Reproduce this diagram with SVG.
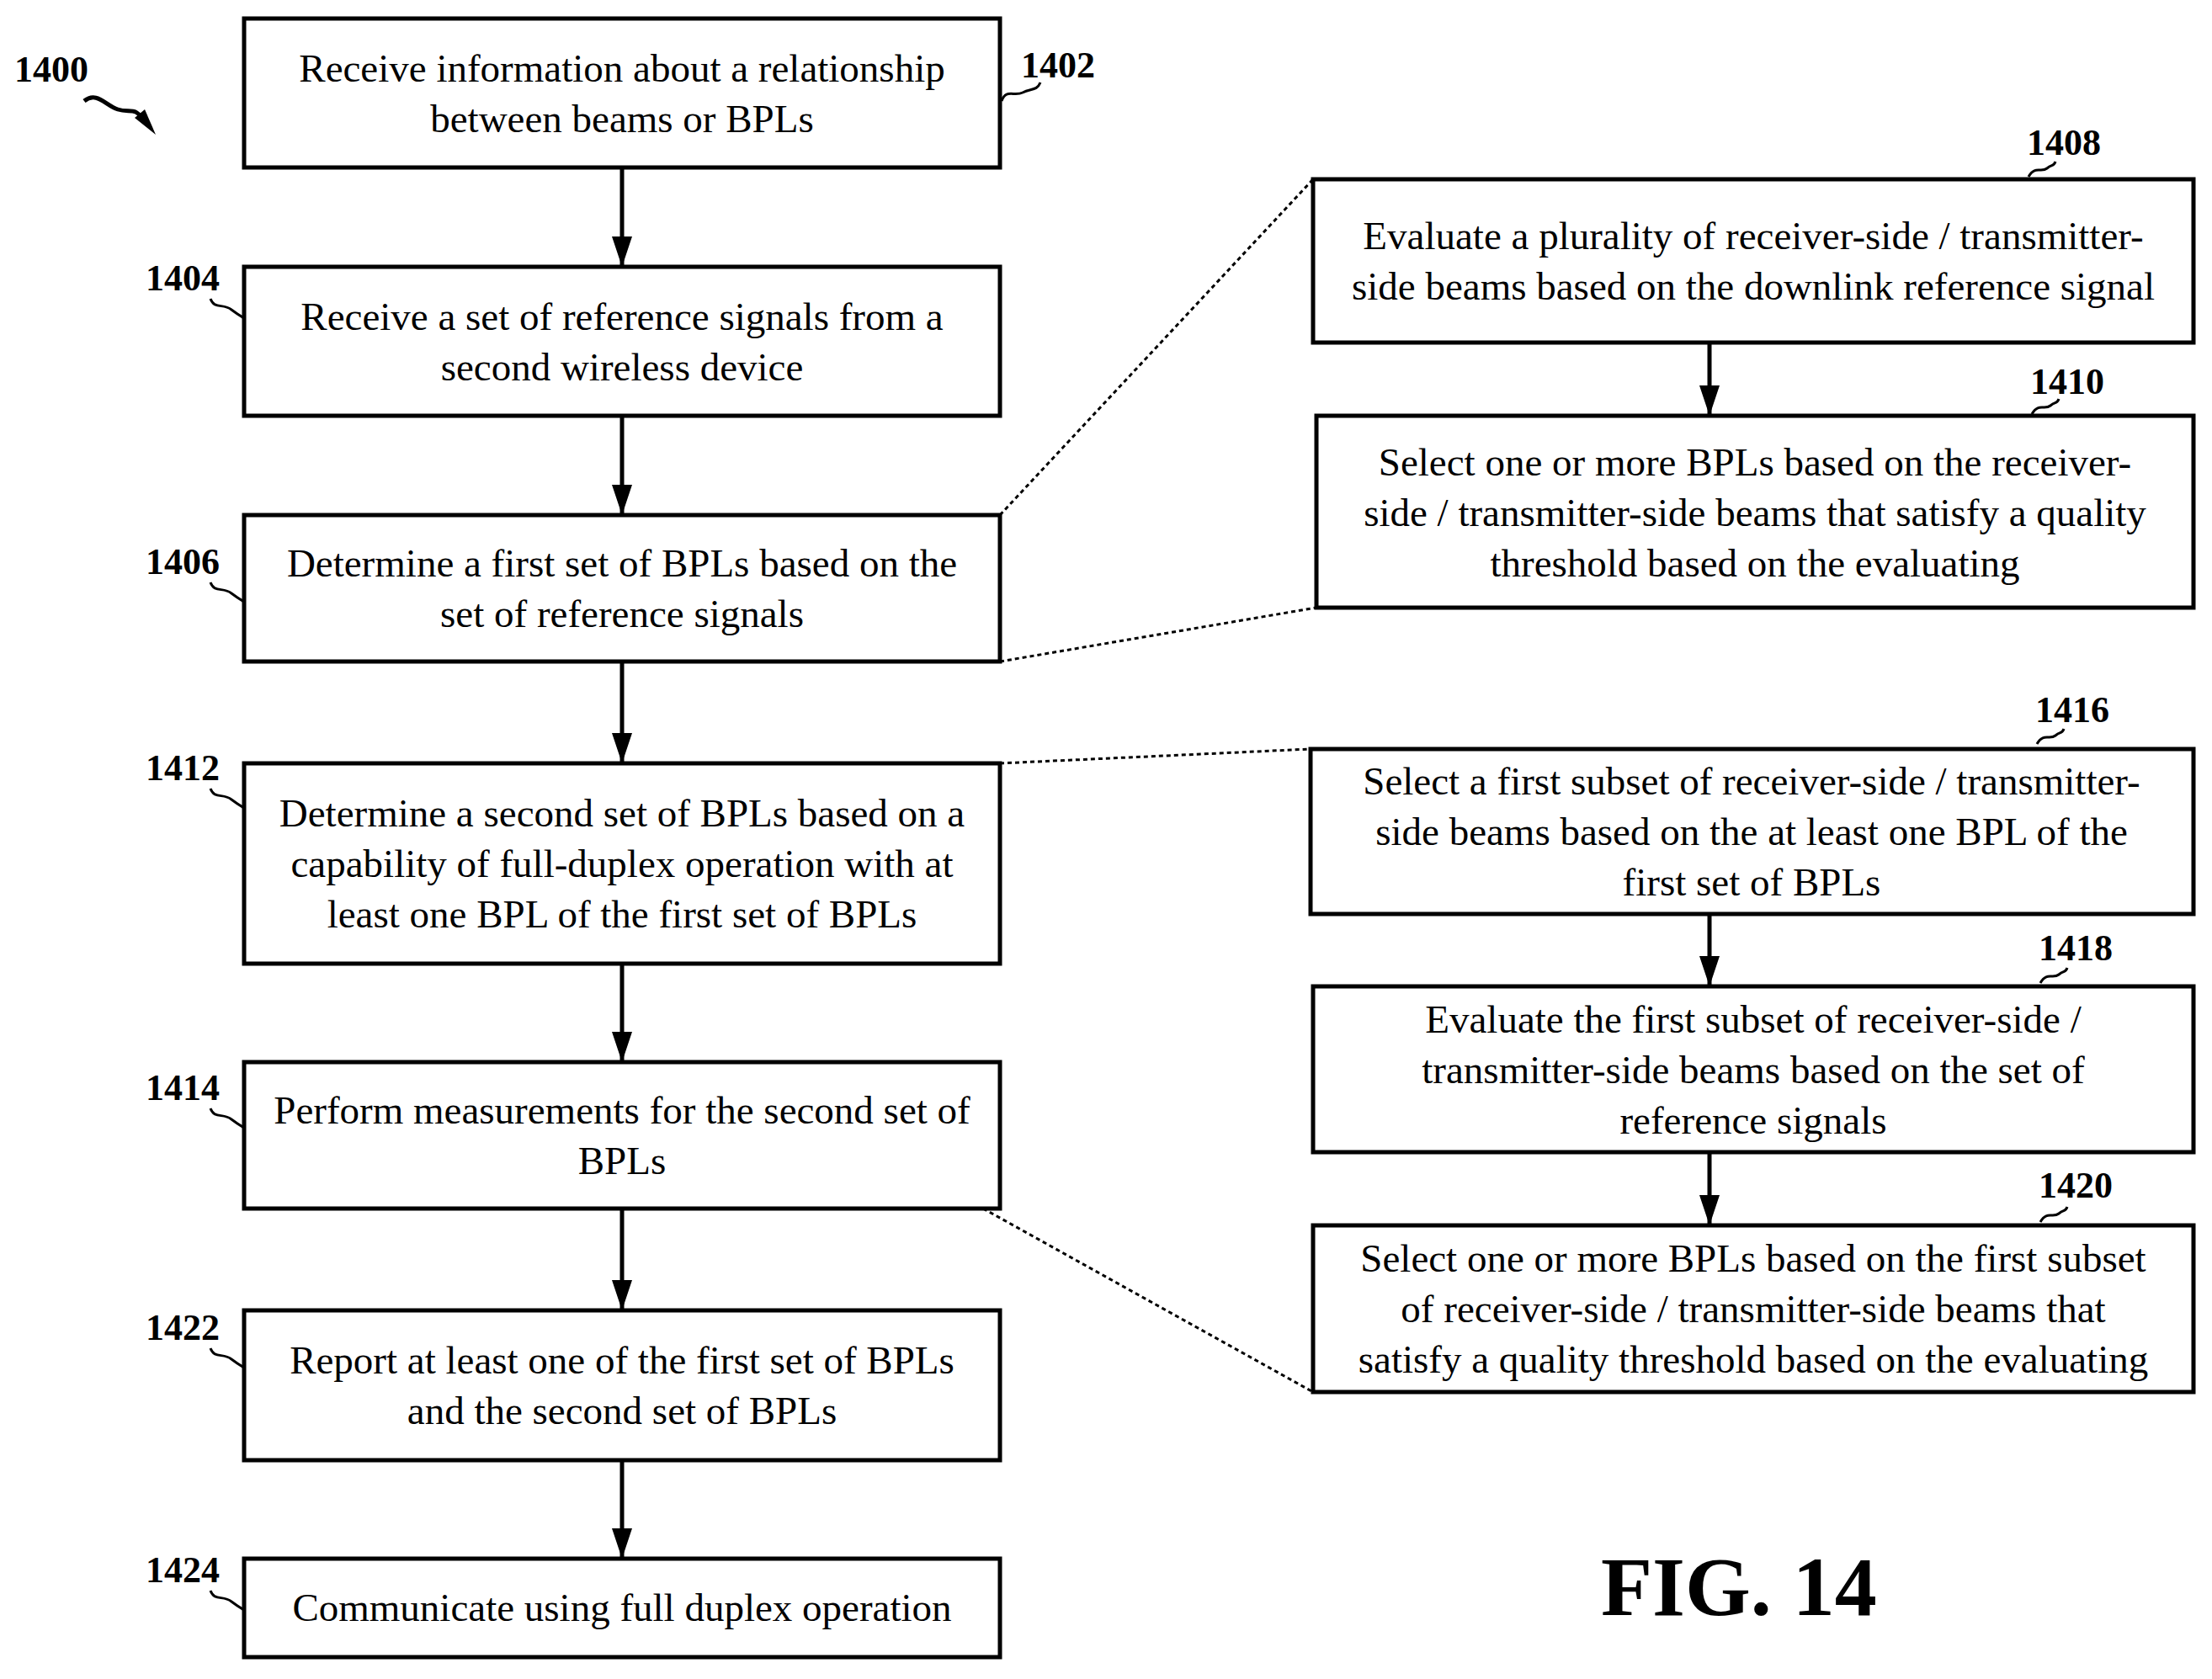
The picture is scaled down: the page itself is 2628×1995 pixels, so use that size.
<svg xmlns="http://www.w3.org/2000/svg" width="2628" height="1995" viewBox="0 0 2628 1995" font-family="Liberation Serif, serif">
<defs>
<style>
.b{fill:#fff;stroke:#000;stroke-width:5}
.t{font-size:47px;text-anchor:middle}
.l{font-size:44px;font-weight:bold}
.a{stroke:#000;stroke-width:5;fill:none}
.d{stroke:#000;stroke-width:3;fill:none;stroke-dasharray:5 4}
.s{stroke:#000;stroke-width:3;fill:none}
</style>
<marker id="ar" markerWidth="36" markerHeight="24" refX="36" refY="12" orient="auto" markerUnits="userSpaceOnUse"><path d="M0,0L36,12L0,24z"/></marker>
</defs>
<g id="n1402"><rect class="b" x="290" y="22" width="898" height="177"/><text class="t" x="739" y="97" font-family="Liberation Serif, serif">Receive information about a relationship</text><text class="t" x="739" y="157" font-family="Liberation Serif, serif">between beams or BPLs</text></g>
<g id="n1404"><rect class="b" x="290" y="317" width="898" height="177"/><text class="t" x="739" y="392" font-family="Liberation Serif, serif">Receive a set of reference signals from a</text><text class="t" x="739" y="452" font-family="Liberation Serif, serif">second wireless device</text></g>
<g id="n1406"><rect class="b" x="290" y="612" width="898" height="174"/><text class="t" x="739" y="685" font-family="Liberation Serif, serif">Determine a first set of BPLs based on the</text><text class="t" x="739" y="745" font-family="Liberation Serif, serif">set of reference signals</text></g>
<g id="n1412"><rect class="b" x="290" y="907" width="898" height="238"/><text class="t" x="739" y="982" font-family="Liberation Serif, serif">Determine a second set of BPLs based on a</text><text class="t" x="739" y="1042" font-family="Liberation Serif, serif">capability of full-duplex operation with at</text><text class="t" x="739" y="1102" font-family="Liberation Serif, serif">least one BPL of the first set of BPLs</text></g>
<g id="n1414"><rect class="b" x="290" y="1262" width="898" height="174"/><text class="t" x="739" y="1335" font-family="Liberation Serif, serif">Perform measurements for the second set of</text><text class="t" x="739" y="1395" font-family="Liberation Serif, serif">BPLs</text></g>
<g id="n1422"><rect class="b" x="290" y="1557" width="898" height="178"/><text class="t" x="739" y="1632" font-family="Liberation Serif, serif">Report at least one of the first set of BPLs</text><text class="t" x="739" y="1692" font-family="Liberation Serif, serif">and the second set of BPLs</text></g>
<g id="n1424"><rect class="b" x="290" y="1852" width="898" height="117"/><text class="t" x="739" y="1926" font-family="Liberation Serif, serif">Communicate using full duplex operation</text></g>
<g id="n1408"><rect class="b" x="1560" y="213" width="1046" height="194"/><text class="t" x="2083" y="296" font-family="Liberation Serif, serif">Evaluate a plurality of receiver-side / transmitter-</text><text class="t" x="2083" y="356" font-family="Liberation Serif, serif">side beams based on the downlink reference signal</text></g>
<g id="n1410"><rect class="b" x="1564" y="494" width="1042" height="228"/><text class="t" x="2085" y="565" font-family="Liberation Serif, serif">Select one or more BPLs based on the receiver-</text><text class="t" x="2085" y="625" font-family="Liberation Serif, serif">side / transmitter-side beams that satisfy a quality</text><text class="t" x="2085" y="685" font-family="Liberation Serif, serif">threshold based on the evaluating</text></g>
<g id="n1416"><rect class="b" x="1557" y="890" width="1049" height="196"/><text class="t" x="2081" y="944" font-family="Liberation Serif, serif">Select a first subset of receiver-side / transmitter-</text><text class="t" x="2081" y="1004" font-family="Liberation Serif, serif">side beams based on the at least one BPL of the</text><text class="t" x="2081" y="1064" font-family="Liberation Serif, serif">first set of BPLs</text></g>
<g id="n1418"><rect class="b" x="1560" y="1172" width="1046" height="197"/><text class="t" x="2083" y="1227" font-family="Liberation Serif, serif">Evaluate the first subset of receiver-side /</text><text class="t" x="2083" y="1287" font-family="Liberation Serif, serif">transmitter-side beams based on the set of</text><text class="t" x="2083" y="1347" font-family="Liberation Serif, serif">reference signals</text></g>
<g id="n1420"><rect class="b" x="1560" y="1456" width="1046" height="198"/><text class="t" x="2083" y="1511" font-family="Liberation Serif, serif">Select one or more BPLs based on the first subset</text><text class="t" x="2083" y="1571" font-family="Liberation Serif, serif">of receiver-side / transmitter-side beams that</text><text class="t" x="2083" y="1631" font-family="Liberation Serif, serif">satisfy a quality threshold based on the evaluating</text></g>
<g id="connectors">
<line class="a" x1="739" y1="199" x2="739" y2="317" marker-end="url(#ar)"/>
<line class="a" x1="739" y1="494" x2="739" y2="612" marker-end="url(#ar)"/>
<line class="a" x1="739" y1="786" x2="739" y2="907" marker-end="url(#ar)"/>
<line class="a" x1="739" y1="1145" x2="739" y2="1262" marker-end="url(#ar)"/>
<line class="a" x1="739" y1="1436" x2="739" y2="1557" marker-end="url(#ar)"/>
<line class="a" x1="739" y1="1735" x2="739" y2="1852" marker-end="url(#ar)"/>
<line class="a" x1="2031" y1="407" x2="2031" y2="494" marker-end="url(#ar)"/>
<line class="a" x1="2031" y1="1086" x2="2031" y2="1172" marker-end="url(#ar)"/>
<line class="a" x1="2031" y1="1369" x2="2031" y2="1456" marker-end="url(#ar)"/>
<line class="d" x1="1188" y1="612" x2="1560" y2="213"/>
<line class="d" x1="1188" y1="786" x2="1564" y2="722"/>
<line class="d" x1="1188" y1="907" x2="1557" y2="890"/>
<line class="d" x1="1168" y1="1436" x2="1560" y2="1654"/>
</g>
<g id="labels" font-family="Liberation Serif, serif">
<text class="l" x="17" y="97" font-family="Liberation Serif, serif">1400</text>
<path class="a" d="M100,120 C115,108 125,125 140,130 C155,135 160,125 172,145"/>
<path d="M160,140 L185,160 L172,130 z"/>
<text class="l" x="1213" y="92" font-family="Liberation Serif, serif">1402</text>
<path class="s" d="M1190,120 C1195,105 1205,115 1215,110 C1225,105 1232,108 1236,98"/>
<text class="l" x="173" y="345" font-family="Liberation Serif, serif">1404</text>
<path class="s" d="M250,355 C255,368 265,360 275,368 C283,374 285,375 290,378"/>
<text class="l" x="173" y="682" font-family="Liberation Serif, serif">1406</text>
<path class="s" d="M250,692 C255,705 265,697 275,705 C283,711 285,712 290,715"/>
<text class="l" x="173" y="927" font-family="Liberation Serif, serif">1412</text>
<path class="s" d="M250,937 C255,950 265,942 275,950 C283,956 285,957 290,960"/>
<text class="l" x="173" y="1307" font-family="Liberation Serif, serif">1414</text>
<path class="s" d="M250,1317 C255,1330 265,1322 275,1330 C283,1336 285,1337 290,1340"/>
<text class="l" x="173" y="1592" font-family="Liberation Serif, serif">1422</text>
<path class="s" d="M250,1602 C255,1615 265,1607 275,1615 C283,1621 285,1622 290,1625"/>
<text class="l" x="173" y="1880" font-family="Liberation Serif, serif">1424</text>
<path class="s" d="M250,1890 C255,1903 265,1895 275,1903 C283,1909 285,1910 290,1913"/>
<text class="l" x="2408" y="184" font-family="Liberation Serif, serif">1408</text>
<path class="s" d="M2410,210 C2418,196 2425,206 2432,200 C2438,195 2440,198 2442,192"/>
<text class="l" x="2412" y="468" font-family="Liberation Serif, serif">1410</text>
<path class="s" d="M2414,492 C2422,478 2429,488 2436,482 C2442,477 2444,480 2446,474"/>
<text class="l" x="2418" y="858" font-family="Liberation Serif, serif">1416</text>
<path class="s" d="M2420,884 C2428,870 2435,880 2442,874 C2448,869 2450,872 2452,866"/>
<text class="l" x="2422" y="1141" font-family="Liberation Serif, serif">1418</text>
<path class="s" d="M2424,1168 C2432,1154 2439,1164 2446,1158 C2452,1153 2454,1156 2456,1150"/>
<text class="l" x="2422" y="1423" font-family="Liberation Serif, serif">1420</text>
<path class="s" d="M2424,1452 C2432,1438 2439,1448 2446,1442 C2452,1437 2454,1440 2456,1434"/>
<text x="1902" y="1919" font-family="Liberation Serif, serif" font-size="100" font-weight="bold">FIG. 14</text>
</g>
</svg>
